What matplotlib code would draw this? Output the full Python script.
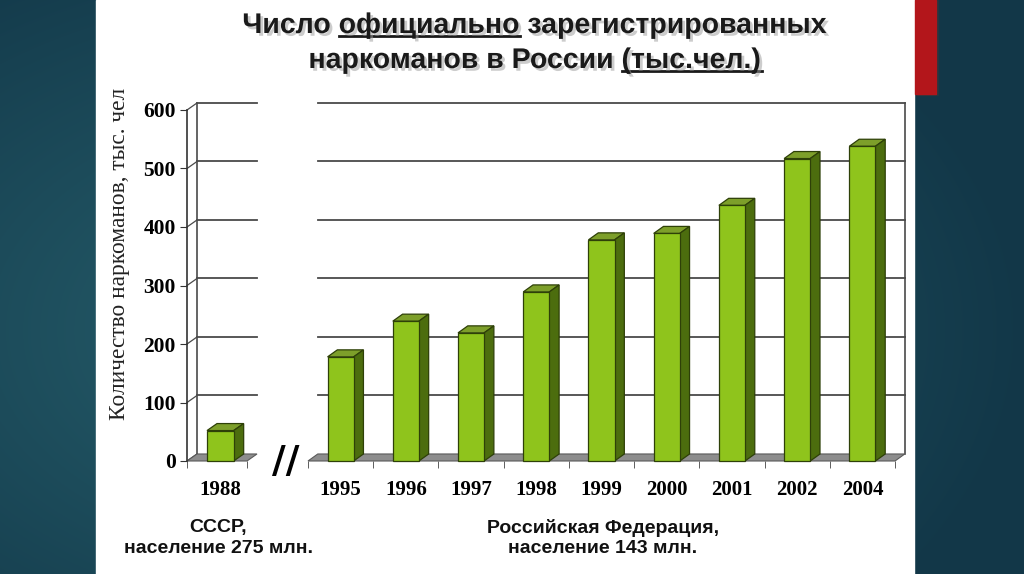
import numpy as np
import matplotlib
matplotlib.use("Agg")
import matplotlib.pyplot as plt
from matplotlib.patches import Rectangle, Polygon
from matplotlib.lines import Line2D
import matplotlib.patheffects as pe

# data
years_ussr = ['1988']
values_ussr = [52]
years_rf = ['1995', '1996', '1997', '1998', '1999', '2000', '2001', '2002', '2004']
values_rf = [178, 239, 219, 289, 378, 389, 437, 517, 538]
yticks = [0, 100, 200, 300, 400, 500, 600]

W, H = 1024, 574
fig = plt.figure(figsize=(W / 100, H / 100), dpi=100)

# background: dark teal slide with radial shading
bg = fig.add_axes([0, 0, 1, 1], zorder=-10)
yy, xx = np.mgrid[0:H, 0:W]
r = np.sqrt(((xx - 330) / 700.0) ** 2 + ((yy - 330) / 450.0) ** 2)
r = np.clip(r, 0, 1)[..., None]
c_in = np.array([0x27, 0x60, 0x6d]) / 255
c_out = np.array([0x12, 0x37, 0x48]) / 255
bg.imshow(c_in * (1 - r) + c_out * r, extent=(0, W, H, 0), aspect='auto')
bg.set_xlim(0, W)
bg.set_ylim(H, 0)
bg.axis('off')
bg.add_patch(Rectangle((96, 0), 818, H, color='white'))
bg.add_patch(Rectangle((917, -2), 21, 97, color='#3a3a3a', alpha=0.35))
bg.add_patch(Rectangle((915, 0), 21, 94, color='#b3161b'))

front = '#8fc41c'
side = '#4c6d0e'
top = '#7d9f2a'
edge = '#2e4008'
grid_c = '#4a4a4a'
dx, dy = 0.15, 12
bw = 0.4


def panel(ax, labels, values, left_wall, xmax):
    n = len(values)
    x = np.arange(n)
    ax.set_xlim(-0.5, xmax)
    ax.set_ylim(0, 600)
    for s in ax.spines.values():
        s.set_visible(False)
    ax.patch.set_alpha(0)
    # back wall grid
    for v in yticks[1:]:
        ax.plot([-0.5 + dx, xmax + dx], [v + dy, v + dy], color=grid_c, lw=1.3, clip_on=False, zorder=1)
    # floor
    ax.add_patch(Polygon([(-0.5, 0), (xmax, 0), (xmax + dx, dy), (-0.5 + dx, dy)],
                         closed=True, facecolor='#8d8d8d', edgecolor='#5a5a5a', lw=0.8,
                         clip_on=False, zorder=2))
    if left_wall:
        ax.plot([-0.5 + dx, -0.5 + dx], [dy, 600 + dy], color=grid_c, lw=1.2, clip_on=False, zorder=1)
        ax.plot([-0.5, -0.5], [0, 600], color='#333333', lw=1.2, clip_on=False, zorder=3)
        for v in yticks:
            ax.plot([-0.5, -0.5 + dx], [v, v + dy], color=grid_c, lw=0.9, clip_on=False, zorder=1)
    else:
        ax.plot([xmax + dx, xmax + dx], [dy, 600 + dy], color=grid_c, lw=1.2, clip_on=False, zorder=1)
    # bars: front face + top + side
    ax.bar(x, values, width=bw, color=front, edgecolor=edge, lw=0.9, zorder=5, clip_on=False)
    for xi, v in zip(x, values):
        l, rr = xi - bw / 2, xi + bw / 2
        ax.add_patch(Polygon([(l, v), (rr, v), (rr + dx, v + dy), (l + dx, v + dy)],
                             closed=True, facecolor=top, edgecolor=edge, lw=0.9, zorder=4, clip_on=False))
        ax.add_patch(Polygon([(rr, 0), (rr + dx, dy), (rr + dx, v + dy), (rr, v)],
                             closed=True, facecolor=side, edgecolor=edge, lw=0.9, zorder=4, clip_on=False))
    ax.set_xticks(x)
    ax.set_xticklabels(labels, fontfamily='Liberation Serif', fontweight='bold', fontsize=15)
    ax.set_xticks(list(np.arange(-0.5, n - 1, 1)) + [xmax], minor=True)
    ax.tick_params(axis='x', which='major', length=0, pad=14)
    ax.tick_params(axis='x', which='minor', length=5, color='#444444', direction='out')


ax1 = fig.add_axes([187 / W, (H - 461) / H, 60 / W, 351 / H])
ax2 = fig.add_axes([308 / W, (H - 461) / H, 587 / W, 351 / H])
panel(ax1, years_ussr, values_ussr, True, 0.4)
panel(ax2, years_rf, values_rf, False, len(values_rf) - 0.5)

ax1.set_yticks(yticks)
ax1.set_yticklabels([str(v) for v in yticks], fontfamily='Liberation Serif', fontweight='bold', fontsize=15.5)
ax1.tick_params(axis='y', length=5, color='#333333', pad=3)
ax2.set_yticks([])

fig.text(120 / W, 1 - 254 / H, 'Количество наркоманов, тыс. чел', rotation=90,
         ha='center', va='center', fontfamily='Liberation Serif', fontsize=16.8, color='#222222')

fig.text(286 / W, 1 - 462 / H, '//', ha='center', va='center', fontsize=27,
         fontweight='bold', fontfamily='DejaVu Sans', color='black')

fig.text(218 / W, 1 - 538 / H, 'СССР,\nнаселение 275 млн.', ha='center', va='center',
         fontfamily='Liberation Sans', fontweight='bold', fontsize=14, linespacing=1.25, color='#111111')
fig.text(603 / W, 1 - 538 / H, 'Российская Федерация,\nнаселение 143 млн.', ha='center', va='center',
         fontfamily='Liberation Sans', fontweight='bold', fontsize=14, linespacing=1.25, color='#111111')

# title with shadow and underlined words
shadow = [pe.withSimplePatchShadow(offset=(2, -2), shadow_rgbFace='#9a9a9a', alpha=0.5)]
title_lines = [('Число официально зарегистрированных', 'официально', 26),
               ('наркоманов в России (тыс.чел.)', '(тыс.чел.)', 61)]
renderer = fig.canvas.get_renderer()
for line, word, ypx in title_lines:
    t = fig.text(535 / W, 1 - ypx / H, line, ha='center', va='center', fontfamily='Liberation Sans',
                 fontweight='bold', fontsize=20.5, color='#1a1a1a', path_effects=shadow)
    bb = t.get_window_extent(renderer)
    end = line.index(word) + len(word)
    tmp = fig.text(0, 0, line[:end], fontproperties=t.get_fontproperties())
    w_end = tmp.get_window_extent(renderer).width
    tmp.remove()
    tmp = fig.text(0, 0, word, fontproperties=t.get_fontproperties())
    w_word = tmp.get_window_extent(renderer).width
    tmp.remove()
    x1 = bb.x0 + w_end
    x0 = x1 - w_word
    yu = bb.y0 + 3
    fig.add_artist(Line2D([x0 / W, x1 / W], [yu / H, yu / H], color='#1a1a1a', lw=2,
                          transform=fig.transFigure, path_effects=shadow))

fig.savefig('out.png', dpi=100)
